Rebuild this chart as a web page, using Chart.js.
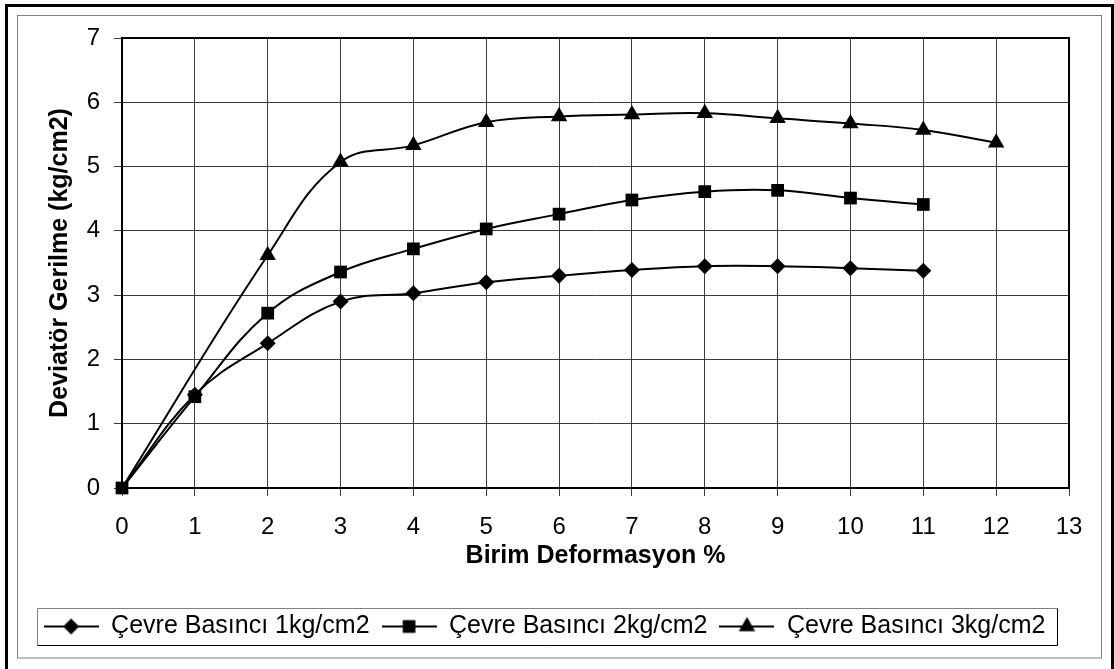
<!DOCTYPE html>
<html>
<head>
<meta charset="utf-8">
<script src="https://cdn.jsdelivr.net/npm/chart.js@4.4.1/dist/chart.umd.min.js"></script>
<style>
  html, body { margin: 0; padding: 0; background: #fff; }
  #wrap { width: 1114px; height: 669px; position: relative; }
</style>
</head>
<body>
<div id="wrap"><canvas id="c" width="1114" height="669"></canvas></div>
<script>
// ---- data ----
const seriesNames = ["Çevre Basıncı 1kg/cm2", "Çevre Basıncı 2kg/cm2", "Çevre Basıncı 3kg/cm2"];
const xTitle = "Birim Deformasyon %";
const yTitle = "Deviatör Gerilme (kg/cm2)";

const strain1 = [0, 1, 2, 3, 4, 5, 6, 7, 8, 9, 10, 11];
const stress1 = [0, 1.45, 2.25, 2.90, 3.03, 3.20, 3.30, 3.39, 3.45, 3.45, 3.42, 3.38];

const strain2 = [0, 1, 2, 3, 4, 5, 6, 7, 8, 9, 10, 11];
const stress2 = [0, 1.42, 2.72, 3.36, 3.72, 4.03, 4.26, 4.48, 4.61, 4.63, 4.51, 4.41];

const strain3 = [0, 2, 3, 4, 5, 6, 7, 8, 9, 10, 11, 12];
const stress3 = [0, 3.62, 5.07, 5.33, 5.69, 5.78, 5.81, 5.83, 5.75, 5.67, 5.57, 5.37];

const xMin = 0, xMax = 13, xStep = 1;
const yMin = 0, yMax = 7, yStep = 1;

// ---- helpers ----
function toPoints(xs, ys) { return xs.map((x, i) => ({ x: x, y: ys[i] })); }

function drawMarker(ctx, style, x, y, r) {
  ctx.beginPath();
  if (style === 'rectRot') {
    ctx.moveTo(x, y - r); ctx.lineTo(x + r, y); ctx.lineTo(x, y + r); ctx.lineTo(x - r, y);
  } else if (style === 'rect') {
    const s = r * Math.SQRT1_2;
    ctx.rect(x - s, y - s, 2 * s, 2 * s);
  } else if (style === 'triangle') {
    ctx.moveTo(x, y - r);
    ctx.lineTo(x + r * Math.sin(2 * Math.PI / 3), y - r * Math.cos(2 * Math.PI / 3));
    ctx.lineTo(x + r * Math.sin(4 * Math.PI / 3), y - r * Math.cos(4 * Math.PI / 3));
  }
  ctx.closePath();
  ctx.fillStyle = '#000';
  ctx.fill();
}

function legendIcon(style, r) {
  const cv = document.createElement('canvas');
  cv.width = 55; cv.height = 22;
  const c = cv.getContext('2d');
  c.strokeStyle = '#000'; c.lineWidth = 2;
  c.beginPath(); c.moveTo(0, 11); c.lineTo(55, 11); c.stroke();
  drawMarker(c, style, 27.5, 11, r);
  return cv;
}

const styles = ['rectRot', 'rect', 'triangle'];
const radii = [8, 9, 9.5];
const icons = styles.map((s, i) => legendIcon(s, radii[i]));

const frame = {
  id: 'frame',
  beforeDraw(chart) {
    const ctx = chart.ctx;
    ctx.save();
    ctx.fillStyle = '#fff';
    ctx.fillRect(0, 0, chart.width, chart.height);
    ctx.strokeStyle = '#000'; ctx.lineWidth = 3;
    ctx.strokeRect(6.5, 5.5, 1106, 670);
    ctx.strokeStyle = '#808080'; ctx.lineWidth = 1;
    ctx.strokeRect(17.5, 15.5, 1084, 642.5);
    ctx.restore();
  },
  beforeDatasetsDraw(chart) {
    const ctx = chart.ctx, a = chart.chartArea;
    ctx.save();
    ctx.strokeStyle = '#000'; ctx.lineWidth = 2;
    ctx.strokeRect(a.left, a.top, a.right - a.left, a.bottom - a.top);
    ctx.restore();
  },
  afterDraw(chart) {
    const lg = chart.legend;
    if (!lg || !lg.legendHitBoxes || !lg.legendHitBoxes.length) return;
    const hb = lg.legendHitBoxes;
    const first = hb[0], last = hb[hb.length - 1];
    const L = Math.round(first.left - 7) + 0.5;
    const R = Math.round(last.left + last.width + 12) + 0.5;
    const T = Math.round(first.top - 6) + 0.5;
    const B = Math.round(first.top + first.height + 6) + 0.5;
    const ctx = chart.ctx;
    ctx.save();
    ctx.lineWidth = 1;
    ctx.strokeStyle = '#808080';
    ctx.beginPath(); ctx.moveTo(L, B); ctx.lineTo(L, T); ctx.lineTo(R, T); ctx.stroke();
    ctx.strokeStyle = '#000';
    ctx.beginPath(); ctx.moveTo(R, T); ctx.lineTo(R, B); ctx.lineTo(L, B); ctx.stroke();
    ctx.restore();
  }
};

const FONT = "'Liberation Sans', Arial, sans-serif";

function ds(label, xs, ys, style, r, firstHidden) {
  const pr = xs.map((_, i) => (firstHidden && i === 0) ? 0 : r);
  return {
    label: label,
    data: toPoints(xs, ys),
    borderColor: '#000',
    backgroundColor: '#000',
    borderWidth: 2,
    pointStyle: style,
    pointRadius: pr,
    pointHoverRadius: pr,
    pointBorderWidth: 0,
    pointBackgroundColor: '#000',
    tension: 0.4,
    clip: false,
    fill: false
  };
}

new Chart(document.getElementById('c'), {
  type: 'line',
  data: {
    datasets: [
      ds(seriesNames[0], strain1, stress1, styles[0], radii[0], true),
      ds(seriesNames[1], strain2, stress2, styles[1], radii[1], false),
      ds(seriesNames[2], strain3, stress3, styles[2], radii[2], true)
    ]
  },
  options: {
    responsive: false,
    animation: false,
    devicePixelRatio: 1,
    layout: { padding: { left: 20, top: 38, right: 45, bottom: 20 } },
    plugins: {
      tooltip: { enabled: false },
      legend: {
        position: 'bottom',
        labels: {
          usePointStyle: true,
          pointStyleWidth: 55,
          padding: 12,
          color: '#000',
          font: { family: FONT, size: 25 },
          generateLabels(chart) {
            return chart.data.datasets.map((d, i) => ({
              text: d.label,
              pointStyle: icons[i],
              fillStyle: '#000',
              strokeStyle: '#000',
              lineWidth: 0,
              hidden: false,
              datasetIndex: i,
              fontColor: '#000'
            }));
          }
        }
      }
    },
    scales: {
      x: {
        type: 'linear',
        min: xMin, max: xMax,
        afterFit(s) { s.height = 114; },
        ticks: { stepSize: xStep, autoSkip: false, maxRotation: 0, padding: 17, color: '#000', font: { family: FONT, size: 24 } },
        grid: { color: '#3a3a3a', lineWidth: 1, tickLength: 8, drawTicks: true },
        border: { display: false },
        title: { display: true, text: xTitle, color: '#000', font: { family: FONT, size: 25, weight: 'bold' }, padding: { top: 0, bottom: 31 } }
      },
      y: {
        min: yMin, max: yMax,
        afterFit(s) { s.width = 102; },
        ticks: { stepSize: yStep, padding: 14, color: '#000', font: { family: FONT, size: 24 } },
        grid: { color: '#3a3a3a', lineWidth: 1, tickLength: 8, drawTicks: true },
        border: { display: false },
        title: { display: true, text: yTitle, color: '#000', font: { family: FONT, size: 25, weight: 'bold' }, padding: { top: 25, bottom: 0 } }
      }
    }
  },
  plugins: [frame]
});
</script>
</body>
</html>
